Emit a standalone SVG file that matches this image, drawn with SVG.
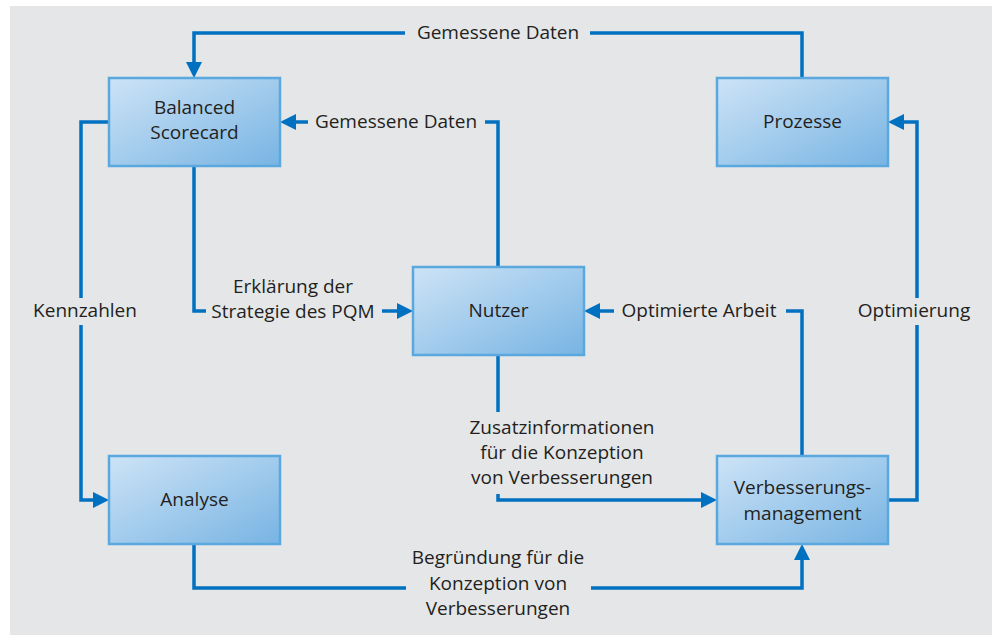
<svg xmlns="http://www.w3.org/2000/svg" width="992" height="635" viewBox="0 0 992 635">
<defs>
<linearGradient id="bx" x1="0" y1="0" x2="1" y2="1">
<stop offset="0" stop-color="#cde3f6"/>
<stop offset="1" stop-color="#78b4e3"/>
</linearGradient>
<marker id="ah" viewBox="0 0 10 10" refX="0" refY="5" markerWidth="16" markerHeight="18" markerUnits="userSpaceOnUse" orient="auto">
<path d="M0,0 L10,5 L0,10 z" fill="#0070c0"/>
</marker>
<style>
.box{fill:url(#bx);stroke:#5aa8de;stroke-width:2.5}
.t{font-family:"Open Sans","Liberation Sans",sans-serif;font-size:19px;fill:#231f20;text-anchor:middle}
.c{fill:none;stroke:#0070c0;stroke-width:3.5}
.a{marker-end:url(#ah)}
</style>
</defs>
<rect x="10" y="6" width="982" height="629" fill="#e5e6e8"/>
<g id="connectors">
<path class="c" d="M802,78 V33 H590"/>
<path class="c a" d="M405,33 H194 V62"/>
<path class="c" d="M498,267 V122 H485"/>
<path class="c a" d="M308,122 H296"/>
<path class="c" d="M109,122 H81 V298"/>
<path class="c a" d="M81,325 V500 H93"/>
<path class="c" d="M194,166 V311 H206"/>
<path class="c a" d="M382,311 H397"/>
<path class="c" d="M802,456 V311 H786"/>
<path class="c a" d="M614,311 H600"/>
<path class="c" d="M888,500 H917 V325"/>
<path class="c a" d="M917,298 V122 H904"/>
<path class="c" d="M498,355 V412"/>
<path class="c a" d="M498,494 V500 H701"/>
<path class="c" d="M194,544 V588 H406"/>
<path class="c a" d="M591,588 H802 V560"/>
<text class="t" x="498" y="39">Gemessene Daten</text>
<text class="t" x="396" y="128">Gemessene Daten</text>
<text class="t" x="85" y="317">Kennzahlen</text>
<text class="t" x="293" y="293">Erklärung der</text>
<text class="t" x="293" y="318">Strategie des PQM</text>
<text class="t" x="699" y="317">Optimierte Arbeit</text>
<text class="t" x="914" y="317">Optimierung</text>
<text class="t" x="562" y="434">Zusatzinformationen</text>
<text class="t" x="562" y="459">für die Konzeption</text>
<text class="t" x="562" y="484">von Verbesserungen</text>
<text class="t" x="498" y="564">Begründung für die</text>
<text class="t" x="498" y="590">Konzeption von</text>
<text class="t" x="498" y="615">Verbesserungen</text>
</g>
<g id="bsc">
<rect class="box" x="109" y="78" width="171" height="88"/>
<text class="t" x="194.5" y="114">Balanced</text>
<text class="t" x="194.5" y="139">Scorecard</text>
</g>
<g id="prozesse">
<rect class="box" x="717" y="78" width="171" height="88"/>
<text class="t" x="802.5" y="128">Prozesse</text>
</g>
<g id="nutzer">
<rect class="box" x="413" y="267" width="171" height="88"/>
<text class="t" x="498.5" y="317">Nutzer</text>
</g>
<g id="analyse">
<rect class="box" x="109" y="456" width="171" height="88"/>
<text class="t" x="194.5" y="506">Analyse</text>
</g>
<g id="verbesserung">
<rect class="box" x="717" y="456" width="171" height="88"/>
<text class="t" x="802.5" y="494">Verbesserungs-</text>
<text class="t" x="802.5" y="520">management</text>
</g>
</svg>
